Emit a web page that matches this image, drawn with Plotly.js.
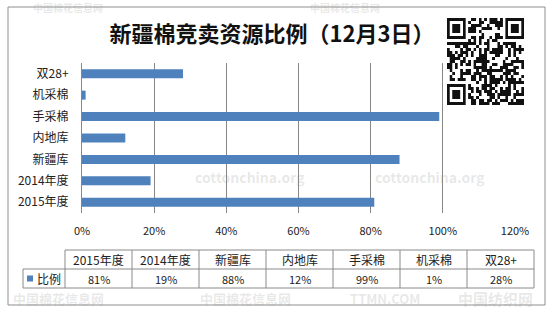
<!DOCTYPE html>
<html><head><meta charset="utf-8">
<script src="https://cdn.plot.ly/plotly-3.0.1.min.js"></script>
<style>html,body{margin:0;padding:0;background:#fff}#chart{width:555px;height:313px}</style>
</head><body><div id="chart"></div>
<script>
// ---- data ----
const categories = ['2015年度','2014年度','新疆库','内地库','手采棉','机采棉','双28+'];
const shares = [0.81, 0.19, 0.88, 0.12, 0.99, 0.01, 0.28];
const seriesName = '比例';
const titleText = '新疆棉竞卖资源比例（12月3日）';
const xTickVals = [0, 0.2, 0.4, 0.6, 0.8, 1.0, 1.2];
const xTickText = ['0%','20%','40%','60%','80%','100%','120%'];

// ---- layout helpers (pixel -> paper) ----
const W = 555, H = 313, L = 82, R = 515, T = 63, B = 213;
const px = x => (x - L) / (R - L);
const py = y => (B - y) / (B - T);
const FONT = '"Noto Sans CJK SC", "Noto Sans", sans-serif';
const BLUE = '#4F81BD';
const GRID = '#878787';

const shapes = [];
const annotations = [];

// outer border
shapes.push({type:'rect', xref:'paper', yref:'paper', x0:px(8), x1:px(545), y0:py(7), y1:py(305),
  line:{color:'#8f8f8f', width:1}, fillcolor:'rgba(0,0,0,0)', layer:'below'});

// data table
const colStart = 65, colW = 67, rowTop = 250, rowMid = 269, rowBot = 288, legL = 23;
const colEnd = colStart + colW * categories.length;
const tl = {color:'#8a8a8a', width:1};
shapes.push({type:'line', xref:'paper', yref:'paper', x0:px(colStart), x1:px(colEnd), y0:py(rowTop), y1:py(rowTop), line:tl});
shapes.push({type:'line', xref:'paper', yref:'paper', x0:px(legL), x1:px(colEnd), y0:py(rowMid), y1:py(rowMid), line:tl});
shapes.push({type:'line', xref:'paper', yref:'paper', x0:px(legL), x1:px(colEnd), y0:py(rowBot), y1:py(rowBot), line:tl});
shapes.push({type:'line', xref:'paper', yref:'paper', x0:px(legL), x1:px(legL), y0:py(rowMid), y1:py(rowBot), line:tl});
for (let i = 0; i <= categories.length; i++) {
  const x = colStart + colW * i;
  shapes.push({type:'line', xref:'paper', yref:'paper', x0:px(x), x1:px(x), y0:py(rowTop), y1:py(rowBot), line:tl});
}
categories.forEach((c, i) => {
  const cx = colStart + colW * (i + 0.5);
  annotations.push({xref:'paper', yref:'paper', x:px(cx), y:py((rowTop+rowMid)/2), text:c, showarrow:false,
    xanchor:'center', yanchor:'middle', font:{family:FONT, size:12, color:'#222'}});
  annotations.push({xref:'paper', yref:'paper', x:px(cx), y:py((rowMid+rowBot)/2), text:Math.round(shares[i]*100)+'%', showarrow:false,
    xanchor:'center', yanchor:'middle', font:{family:FONT, size:11, color:'#222'}});
});
// legend key in table
shapes.push({type:'rect', xref:'paper', yref:'paper', x0:px(27), x1:px(33), y0:py(275.5), y1:py(281.5),
  fillcolor:BLUE, line:{width:0}});
annotations.push({xref:'paper', yref:'paper', x:px(35), y:py((rowMid+rowBot)/2), text:seriesName, showarrow:false,
  xanchor:'left', yanchor:'middle', font:{family:FONT, size:12, color:'#222'}});

// faint watermarks
const wm = (x, y, t, s) => annotations.push({xref:'paper', yref:'paper', x:px(x), y:py(y), text:t, showarrow:false,
  xanchor:'center', yanchor:'middle', font:{family:FONT, size:s, color:'rgba(150,150,150,0.22)', weight:'bold'}});
wm(250, 177, 'cottonchina.org', 14);
wm(430, 177, 'cottonchina.org', 14);
wm(345, 7, '中国棉花信息网', 10);
wm(68, 7, '中国棉花信息网', 10);
wm(58, 298, '中国棉花信息网', 13);
wm(245, 298, '中国棉花信息网', 13);
wm(385, 298, 'TTMN.COM', 13);
wm(495, 298, '中国纺织网', 15);

// QR-like decoration (deterministic pattern)
function qrImage() {
  const n = 29, s = 4;
  const c = document.createElement('canvas');
  c.width = n * s; c.height = n * s;
  const g = c.getContext('2d');
  g.fillStyle = '#fff'; g.fillRect(0, 0, c.width, c.height);
  g.fillStyle = '#111';
  let h = 12345;
  for (let r = 0; r < n; r++) for (let q = 0; q < n; q++) {
    h = (h * 1103515245 + 12345) & 0x7fffffff;
    if ((h >> 16) % 100 < 52) g.fillRect(q * s, r * s, s, s);
  }
  const finder = (ox, oy) => {
    g.fillStyle = '#fff'; g.fillRect((ox - 1) * s, (oy - 1) * s, 9 * s, 9 * s);
    g.fillStyle = '#111'; g.fillRect(ox * s, oy * s, 7 * s, 7 * s);
    g.fillStyle = '#fff'; g.fillRect((ox + 1) * s, (oy + 1) * s, 5 * s, 5 * s);
    g.fillStyle = '#111'; g.fillRect((ox + 2) * s, (oy + 2) * s, 3 * s, 3 * s);
  };
  finder(0, 0); finder(n - 7, 0); finder(0, n - 7);
  return c.toDataURL();
}

const trace = {
  type:'bar', orientation:'h', y:categories, x:shares, name:seriesName,
  marker:{color:BLUE, line:{width:0}}, hoverinfo:'none'
};

const layout = {
  width:W, height:H,
  margin:{l:L, r:W - R, t:T, b:H - B, pad:0},
  paper_bgcolor:'#ffffff', plot_bgcolor:'#ffffff',
  showlegend:false, bargap:0.58,
  title:{text:titleText, xref:'paper', x:px(272), xanchor:'center', yref:'container', y:1 - 34 / H, yanchor:'middle',
    font:{family:FONT, size:22, color:'#111', weight:'bold'}},
  xaxis:{range:[0, 1.2], tickvals:xTickVals, ticktext:xTickText, showgrid:true, gridcolor:GRID, gridwidth:1,
    zeroline:false, showline:false, ticks:'', ticklabelstandoff:10,
    tickfont:{family:FONT, size:11, color:'#222'}, fixedrange:true},
  yaxis:{type:'category', range:[-0.5, categories.length - 0.5], showline:true, linecolor:GRID, linewidth:1,
    showgrid:false, zeroline:false, ticks:'', ticklabelstandoff:10,
    tickfont:{family:FONT, size:12, color:'#222'}, fixedrange:true},
  shapes, annotations,
  images:[{source:qrImage(), xref:'paper', yref:'paper', x:px(447), y:py(18), sizex:px(524) - px(447), sizey:py(18) - py(105),
    xanchor:'left', yanchor:'top', sizing:'stretch', layer:'above'}]
};

Plotly.newPlot('chart', [trace], layout, {displayModeBar:false, staticPlot:true});
</script>
</body></html>
